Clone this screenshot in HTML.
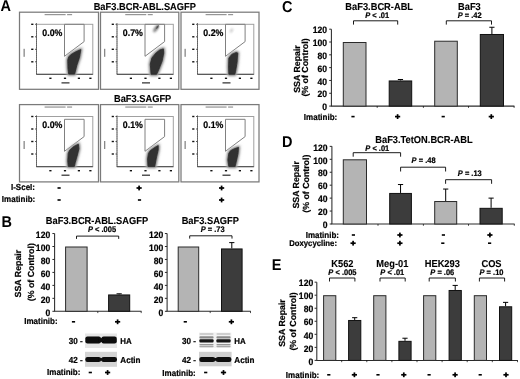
<!DOCTYPE html>
<html><head><meta charset="utf-8"><style>
html,body{margin:0;padding:0;background:#fff;width:520px;height:379px;overflow:hidden}
svg{display:block;filter:blur(0.3px)}
text{font-family:"Liberation Sans", sans-serif;text-rendering:geometricPrecision}
</style></head><body>
<svg width="520" height="379" viewBox="0 0 520 379">
<defs>
<filter id="soft" x="-20%" y="-20%" width="140%" height="140%"><feGaussianBlur stdDeviation="0.5"/></filter>
<filter id="soft2" x="-50%" y="-50%" width="200%" height="200%"><feGaussianBlur stdDeviation="0.9"/></filter>
<filter id="halo" x="-50%" y="-50%" width="200%" height="200%"><feGaussianBlur stdDeviation="1.5"/></filter>
</defs>
<rect width="520" height="379" fill="#fff"/>
<text transform="translate(0.4 10.7) scale(1 1.08)" font-size="14.5" text-anchor="start" font-weight="bold" fill="#000" >A</text>
<text transform="translate(1.6 226.6) scale(1 1.08)" font-size="14.5" text-anchor="start" font-weight="bold" fill="#000" >B</text>
<text transform="translate(282 11.8) scale(1 1.08)" font-size="14.5" text-anchor="start" font-weight="bold" fill="#000" >C</text>
<text transform="translate(282 147.2) scale(1 1.08)" font-size="14.5" text-anchor="start" font-weight="bold" fill="#000" >D</text>
<text transform="translate(271.8 270.3) scale(1 1.08)" font-size="14.5" text-anchor="start" font-weight="bold" fill="#000" >E</text>
<text transform="translate(144.8 9.5) scale(1 1.08)" font-size="9.3" text-anchor="middle" font-weight="bold" fill="#000" stroke="#000" stroke-width="0.1" >BaF3.BCR-ABL.SAGFP</text>
<text transform="translate(142.6 102.1) scale(1 1.08)" font-size="9.3" text-anchor="middle" font-weight="bold" fill="#000" stroke="#000" stroke-width="0.1" >BaF3.SAGFP</text>
<rect x="19.5" y="12.2" width="79.0" height="77.1" fill="none" stroke="#7a7a7a" stroke-width="1.25" />
<rect x="44.6" y="14.1" width="21" height="1.1" fill="#8a8a8a" />
<rect x="67.1" y="14.1" width="5" height="1.1" fill="#8a8a8a" />
<rect x="36.5" y="24.3" width="56.3" height="50.0" fill="none" stroke="#a0a0a0" stroke-width="1.0" />
<line x1="36.5" y1="23.3" x2="36.5" y2="74.3" stroke="#444" stroke-width="1.0" stroke-dasharray="1.2,0.8"/>
<line x1="36.5" y1="74.3" x2="92.8" y2="74.3" stroke="#444" stroke-width="1.0" />
<rect x="31.2" y="23.6" width="2.2" height="1.4" fill="#111" />
<line x1="35.0" y1="24.3" x2="36.5" y2="24.3" stroke="#333" stroke-width="0.8" />
<rect x="31.2" y="36.099999999999994" width="2.2" height="1.4" fill="#111" />
<line x1="35.0" y1="36.8" x2="36.5" y2="36.8" stroke="#333" stroke-width="0.8" />
<rect x="31.2" y="48.599999999999994" width="2.2" height="1.4" fill="#111" />
<line x1="35.0" y1="49.3" x2="36.5" y2="49.3" stroke="#333" stroke-width="0.8" />
<rect x="31.2" y="61.099999999999994" width="2.2" height="1.4" fill="#111" />
<line x1="35.0" y1="61.8" x2="36.5" y2="61.8" stroke="#333" stroke-width="0.8" />
<rect x="49.3" y="77.6" width="2.2" height="1.4" fill="#111" />
<rect x="63.900000000000006" y="77.6" width="2.2" height="1.4" fill="#111" />
<rect x="77.8" y="77.6" width="2.2" height="1.4" fill="#111" />
<rect x="89.3" y="77.6" width="2.2" height="1.4" fill="#111" />
<rect x="61.5" y="82.1" width="8" height="1.5" fill="#555" />
<rect x="23.5" y="48.8" width="1.3" height="8" fill="#888" />
<polygon points="64.50,24.30 84.10,24.30 84.10,41.60 64.50,56.30" fill="none" stroke="#808080" stroke-width="1.0" />
<polygon points="80.80,49.60 79.50,57.20 76.80,65.30 74.60,74.10 68.70,74.10 68.00,68.00 67.80,60.00 68.70,57.00 71.00,54.60 75.50,51.90" fill="#c8c8c8" stroke="#c8c8c8" stroke-width="3.5" filter="url(#halo)"/>
<polygon points="80.80,49.60 79.50,57.20 76.80,65.30 74.60,74.10 68.70,74.10 68.00,68.00 67.80,60.00 68.70,57.00 71.00,54.60 75.50,51.90" fill="#777" stroke="#777" stroke-width="2.2" filter="url(#soft2)" stroke-linejoin="round"/>
<polygon points="80.80,49.60 79.50,57.20 76.80,65.30 74.60,74.10 68.70,74.10 68.00,68.00 67.80,60.00 68.70,57.00 71.00,54.60 75.50,51.90" fill="#303030" stroke="#303030" stroke-width="0.8" filter="url(#soft)" stroke-linejoin="round"/>
<text transform="translate(42.3 35.6) scale(1 1.08)" font-size="8.8" text-anchor="start" font-weight="bold" fill="#000" stroke="#000" stroke-width="0.2" >0.0%</text>
<rect x="100.5" y="12.2" width="78.30000000000001" height="77.1" fill="none" stroke="#7a7a7a" stroke-width="1.25" />
<rect x="125.25" y="14.1" width="21" height="1.1" fill="#8a8a8a" />
<rect x="147.75" y="14.1" width="5" height="1.1" fill="#8a8a8a" />
<rect x="117" y="24.3" width="56.3" height="50.0" fill="none" stroke="#a0a0a0" stroke-width="1.0" />
<line x1="117" y1="23.3" x2="117" y2="74.3" stroke="#444" stroke-width="1.0" stroke-dasharray="1.2,0.8"/>
<line x1="117" y1="74.3" x2="173.3" y2="74.3" stroke="#444" stroke-width="1.0" />
<rect x="111.7" y="23.6" width="2.2" height="1.4" fill="#111" />
<line x1="115.5" y1="24.3" x2="117" y2="24.3" stroke="#333" stroke-width="0.8" />
<rect x="111.7" y="36.099999999999994" width="2.2" height="1.4" fill="#111" />
<line x1="115.5" y1="36.8" x2="117" y2="36.8" stroke="#333" stroke-width="0.8" />
<rect x="111.7" y="48.599999999999994" width="2.2" height="1.4" fill="#111" />
<line x1="115.5" y1="49.3" x2="117" y2="49.3" stroke="#333" stroke-width="0.8" />
<rect x="111.7" y="61.099999999999994" width="2.2" height="1.4" fill="#111" />
<line x1="115.5" y1="61.8" x2="117" y2="61.8" stroke="#333" stroke-width="0.8" />
<rect x="129.8" y="77.6" width="2.2" height="1.4" fill="#111" />
<rect x="144.4" y="77.6" width="2.2" height="1.4" fill="#111" />
<rect x="158.3" y="77.6" width="2.2" height="1.4" fill="#111" />
<rect x="169.8" y="77.6" width="2.2" height="1.4" fill="#111" />
<rect x="142" y="82.1" width="8" height="1.5" fill="#555" />
<rect x="104" y="48.8" width="1.3" height="8" fill="#888" />
<polygon points="145.00,24.30 164.60,24.30 164.60,41.60 145.00,56.30" fill="none" stroke="#808080" stroke-width="1.0" />
<polygon points="163.40,48.90 163.70,53.20 162.10,61.10 159.00,69.00 156.60,74.30 151.10,74.30 150.30,64.10 151.90,58.00 155.80,53.20 159.80,50.00" fill="#c8c8c8" stroke="#c8c8c8" stroke-width="3.5" filter="url(#halo)"/>
<polygon points="163.40,48.90 163.70,53.20 162.10,61.10 159.00,69.00 156.60,74.30 151.10,74.30 150.30,64.10 151.90,58.00 155.80,53.20 159.80,50.00" fill="#777" stroke="#777" stroke-width="2.2" filter="url(#soft2)" stroke-linejoin="round"/>
<polygon points="163.40,48.90 163.70,53.20 162.10,61.10 159.00,69.00 156.60,74.30 151.10,74.30 150.30,64.10 151.90,58.00 155.80,53.20 159.80,50.00" fill="#303030" stroke="#303030" stroke-width="0.8" filter="url(#soft)" stroke-linejoin="round"/>
<text transform="translate(122.8 35.6) scale(1 1.08)" font-size="8.8" text-anchor="start" font-weight="bold" fill="#000" stroke="#000" stroke-width="0.2" >0.7%</text>
<rect x="181" y="12.2" width="78" height="77.1" fill="none" stroke="#7a7a7a" stroke-width="1.25" />
<rect x="205.6" y="14.1" width="21" height="1.1" fill="#8a8a8a" />
<rect x="228.1" y="14.1" width="5" height="1.1" fill="#8a8a8a" />
<rect x="197.5" y="24.3" width="56.3" height="50.0" fill="none" stroke="#a0a0a0" stroke-width="1.0" />
<line x1="197.5" y1="23.3" x2="197.5" y2="74.3" stroke="#444" stroke-width="1.0" stroke-dasharray="1.2,0.8"/>
<line x1="197.5" y1="74.3" x2="253.8" y2="74.3" stroke="#444" stroke-width="1.0" />
<rect x="192.2" y="23.6" width="2.2" height="1.4" fill="#111" />
<line x1="196.0" y1="24.3" x2="197.5" y2="24.3" stroke="#333" stroke-width="0.8" />
<rect x="192.2" y="36.099999999999994" width="2.2" height="1.4" fill="#111" />
<line x1="196.0" y1="36.8" x2="197.5" y2="36.8" stroke="#333" stroke-width="0.8" />
<rect x="192.2" y="48.599999999999994" width="2.2" height="1.4" fill="#111" />
<line x1="196.0" y1="49.3" x2="197.5" y2="49.3" stroke="#333" stroke-width="0.8" />
<rect x="192.2" y="61.099999999999994" width="2.2" height="1.4" fill="#111" />
<line x1="196.0" y1="61.8" x2="197.5" y2="61.8" stroke="#333" stroke-width="0.8" />
<rect x="210.3" y="77.6" width="2.2" height="1.4" fill="#111" />
<rect x="224.9" y="77.6" width="2.2" height="1.4" fill="#111" />
<rect x="238.8" y="77.6" width="2.2" height="1.4" fill="#111" />
<rect x="250.3" y="77.6" width="2.2" height="1.4" fill="#111" />
<rect x="222.5" y="82.1" width="8" height="1.5" fill="#555" />
<rect x="184.5" y="48.8" width="1.3" height="8" fill="#888" />
<polygon points="225.50,24.30 245.10,24.30 245.10,41.60 225.50,56.30" fill="none" stroke="#808080" stroke-width="1.0" />
<polygon points="237.70,53.00 237.00,62.50 235.50,71.40 234.80,74.30 228.90,74.30 228.60,67.00 228.90,58.10 231.80,54.40 236.20,52.50" fill="#c8c8c8" stroke="#c8c8c8" stroke-width="3.5" filter="url(#halo)"/>
<polygon points="237.70,53.00 237.00,62.50 235.50,71.40 234.80,74.30 228.90,74.30 228.60,67.00 228.90,58.10 231.80,54.40 236.20,52.50" fill="#777" stroke="#777" stroke-width="2.2" filter="url(#soft2)" stroke-linejoin="round"/>
<polygon points="237.70,53.00 237.00,62.50 235.50,71.40 234.80,74.30 228.90,74.30 228.60,67.00 228.90,58.10 231.80,54.40 236.20,52.50" fill="#303030" stroke="#303030" stroke-width="0.8" filter="url(#soft)" stroke-linejoin="round"/>
<text transform="translate(203.3 35.6) scale(1 1.08)" font-size="8.8" text-anchor="start" font-weight="bold" fill="#000" stroke="#000" stroke-width="0.2" >0.2%</text>
<rect x="19.5" y="104.6" width="79.0" height="77.30000000000001" fill="none" stroke="#7a7a7a" stroke-width="1.25" />
<rect x="44.6" y="106.5" width="21" height="1.1" fill="#8a8a8a" />
<rect x="67.1" y="106.5" width="5" height="1.1" fill="#8a8a8a" />
<rect x="36.5" y="116.5" width="56.3" height="50.19999999999999" fill="none" stroke="#a0a0a0" stroke-width="1.0" />
<line x1="36.5" y1="115.5" x2="36.5" y2="166.7" stroke="#444" stroke-width="1.0" stroke-dasharray="1.2,0.8"/>
<line x1="36.5" y1="166.7" x2="92.8" y2="166.7" stroke="#444" stroke-width="1.0" />
<rect x="31.2" y="115.8" width="2.2" height="1.4" fill="#111" />
<line x1="35.0" y1="116.5" x2="36.5" y2="116.5" stroke="#333" stroke-width="0.8" />
<rect x="31.2" y="128.3" width="2.2" height="1.4" fill="#111" />
<line x1="35.0" y1="129.0" x2="36.5" y2="129.0" stroke="#333" stroke-width="0.8" />
<rect x="31.2" y="140.8" width="2.2" height="1.4" fill="#111" />
<line x1="35.0" y1="141.5" x2="36.5" y2="141.5" stroke="#333" stroke-width="0.8" />
<rect x="31.2" y="153.3" width="2.2" height="1.4" fill="#111" />
<line x1="35.0" y1="154.0" x2="36.5" y2="154.0" stroke="#333" stroke-width="0.8" />
<rect x="49.3" y="170.0" width="2.2" height="1.4" fill="#111" />
<rect x="63.900000000000006" y="170.0" width="2.2" height="1.4" fill="#111" />
<rect x="77.8" y="170.0" width="2.2" height="1.4" fill="#111" />
<rect x="89.3" y="170.0" width="2.2" height="1.4" fill="#111" />
<rect x="61.5" y="174.5" width="8" height="1.5" fill="#555" />
<rect x="23.5" y="141.0" width="1.3" height="8" fill="#888" />
<polygon points="64.50,119.30 84.10,119.30 84.10,136.60 64.50,151.30" fill="none" stroke="#808080" stroke-width="1.0" />
<polygon points="78.40,144.20 78.90,148.80 77.00,156.20 75.20,162.60 74.30,166.50 68.30,166.50 67.80,160.80 68.30,153.40 69.70,150.20 73.80,146.50" fill="#c8c8c8" stroke="#c8c8c8" stroke-width="3.5" filter="url(#halo)"/>
<polygon points="78.40,144.20 78.90,148.80 77.00,156.20 75.20,162.60 74.30,166.50 68.30,166.50 67.80,160.80 68.30,153.40 69.70,150.20 73.80,146.50" fill="#777" stroke="#777" stroke-width="2.2" filter="url(#soft2)" stroke-linejoin="round"/>
<polygon points="78.40,144.20 78.90,148.80 77.00,156.20 75.20,162.60 74.30,166.50 68.30,166.50 67.80,160.80 68.30,153.40 69.70,150.20 73.80,146.50" fill="#303030" stroke="#303030" stroke-width="0.8" filter="url(#soft)" stroke-linejoin="round"/>
<text transform="translate(42.3 127.8) scale(1 1.08)" font-size="8.8" text-anchor="start" font-weight="bold" fill="#000" stroke="#000" stroke-width="0.2" >0.0%</text>
<rect x="100.5" y="104.6" width="78.30000000000001" height="77.30000000000001" fill="none" stroke="#7a7a7a" stroke-width="1.25" />
<rect x="125.25" y="106.5" width="21" height="1.1" fill="#8a8a8a" />
<rect x="147.75" y="106.5" width="5" height="1.1" fill="#8a8a8a" />
<rect x="117" y="116.5" width="56.3" height="50.19999999999999" fill="none" stroke="#a0a0a0" stroke-width="1.0" />
<line x1="117" y1="115.5" x2="117" y2="166.7" stroke="#444" stroke-width="1.0" stroke-dasharray="1.2,0.8"/>
<line x1="117" y1="166.7" x2="173.3" y2="166.7" stroke="#444" stroke-width="1.0" />
<rect x="111.7" y="115.8" width="2.2" height="1.4" fill="#111" />
<line x1="115.5" y1="116.5" x2="117" y2="116.5" stroke="#333" stroke-width="0.8" />
<rect x="111.7" y="128.3" width="2.2" height="1.4" fill="#111" />
<line x1="115.5" y1="129.0" x2="117" y2="129.0" stroke="#333" stroke-width="0.8" />
<rect x="111.7" y="140.8" width="2.2" height="1.4" fill="#111" />
<line x1="115.5" y1="141.5" x2="117" y2="141.5" stroke="#333" stroke-width="0.8" />
<rect x="111.7" y="153.3" width="2.2" height="1.4" fill="#111" />
<line x1="115.5" y1="154.0" x2="117" y2="154.0" stroke="#333" stroke-width="0.8" />
<rect x="129.8" y="170.0" width="2.2" height="1.4" fill="#111" />
<rect x="144.4" y="170.0" width="2.2" height="1.4" fill="#111" />
<rect x="158.3" y="170.0" width="2.2" height="1.4" fill="#111" />
<rect x="169.8" y="170.0" width="2.2" height="1.4" fill="#111" />
<rect x="142" y="174.5" width="8" height="1.5" fill="#555" />
<rect x="104" y="141.0" width="1.3" height="8" fill="#888" />
<polygon points="145.00,119.30 164.60,119.30 164.60,136.60 145.00,151.30" fill="none" stroke="#808080" stroke-width="1.0" />
<polygon points="158.20,145.60 158.20,149.70 156.30,158.00 154.90,165.40 154.90,166.50 148.00,166.50 147.60,159.00 148.50,153.40 150.30,150.70 154.90,147.40" fill="#c8c8c8" stroke="#c8c8c8" stroke-width="3.5" filter="url(#halo)"/>
<polygon points="158.20,145.60 158.20,149.70 156.30,158.00 154.90,165.40 154.90,166.50 148.00,166.50 147.60,159.00 148.50,153.40 150.30,150.70 154.90,147.40" fill="#777" stroke="#777" stroke-width="2.2" filter="url(#soft2)" stroke-linejoin="round"/>
<polygon points="158.20,145.60 158.20,149.70 156.30,158.00 154.90,165.40 154.90,166.50 148.00,166.50 147.60,159.00 148.50,153.40 150.30,150.70 154.90,147.40" fill="#303030" stroke="#303030" stroke-width="0.8" filter="url(#soft)" stroke-linejoin="round"/>
<text transform="translate(122.8 127.8) scale(1 1.08)" font-size="8.8" text-anchor="start" font-weight="bold" fill="#000" stroke="#000" stroke-width="0.2" >0.1%</text>
<rect x="181" y="104.6" width="78" height="77.30000000000001" fill="none" stroke="#7a7a7a" stroke-width="1.25" />
<rect x="205.6" y="106.5" width="21" height="1.1" fill="#8a8a8a" />
<rect x="228.1" y="106.5" width="5" height="1.1" fill="#8a8a8a" />
<rect x="197.5" y="116.5" width="56.3" height="50.19999999999999" fill="none" stroke="#a0a0a0" stroke-width="1.0" />
<line x1="197.5" y1="115.5" x2="197.5" y2="166.7" stroke="#444" stroke-width="1.0" stroke-dasharray="1.2,0.8"/>
<line x1="197.5" y1="166.7" x2="253.8" y2="166.7" stroke="#444" stroke-width="1.0" />
<rect x="192.2" y="115.8" width="2.2" height="1.4" fill="#111" />
<line x1="196.0" y1="116.5" x2="197.5" y2="116.5" stroke="#333" stroke-width="0.8" />
<rect x="192.2" y="128.3" width="2.2" height="1.4" fill="#111" />
<line x1="196.0" y1="129.0" x2="197.5" y2="129.0" stroke="#333" stroke-width="0.8" />
<rect x="192.2" y="140.8" width="2.2" height="1.4" fill="#111" />
<line x1="196.0" y1="141.5" x2="197.5" y2="141.5" stroke="#333" stroke-width="0.8" />
<rect x="192.2" y="153.3" width="2.2" height="1.4" fill="#111" />
<line x1="196.0" y1="154.0" x2="197.5" y2="154.0" stroke="#333" stroke-width="0.8" />
<rect x="210.3" y="170.0" width="2.2" height="1.4" fill="#111" />
<rect x="224.9" y="170.0" width="2.2" height="1.4" fill="#111" />
<rect x="238.8" y="170.0" width="2.2" height="1.4" fill="#111" />
<rect x="250.3" y="170.0" width="2.2" height="1.4" fill="#111" />
<rect x="222.5" y="174.5" width="8" height="1.5" fill="#555" />
<rect x="184.5" y="141.0" width="1.3" height="8" fill="#888" />
<polygon points="225.50,119.30 245.10,119.30 245.10,136.60 225.50,151.30" fill="none" stroke="#808080" stroke-width="1.0" />
<polygon points="238.50,147.40 238.00,153.40 236.60,159.90 235.20,165.90 235.20,166.50 228.80,166.50 227.90,159.90 228.80,153.40 230.60,150.70 234.30,148.80" fill="#c8c8c8" stroke="#c8c8c8" stroke-width="3.5" filter="url(#halo)"/>
<polygon points="238.50,147.40 238.00,153.40 236.60,159.90 235.20,165.90 235.20,166.50 228.80,166.50 227.90,159.90 228.80,153.40 230.60,150.70 234.30,148.80" fill="#777" stroke="#777" stroke-width="2.2" filter="url(#soft2)" stroke-linejoin="round"/>
<polygon points="238.50,147.40 238.00,153.40 236.60,159.90 235.20,165.90 235.20,166.50 228.80,166.50 227.90,159.90 228.80,153.40 230.60,150.70 234.30,148.80" fill="#303030" stroke="#303030" stroke-width="0.8" filter="url(#soft)" stroke-linejoin="round"/>
<text transform="translate(203.3 127.8) scale(1 1.08)" font-size="8.8" text-anchor="start" font-weight="bold" fill="#000" stroke="#000" stroke-width="0.2" >0.1%</text>
<ellipse cx="156" cy="28.6" rx="1.6" ry="4.2" transform="rotate(35 156 28.6)" fill="#707070" filter="url(#soft2)"/>
<ellipse cx="157.5" cy="27" rx="0.9" ry="2" transform="rotate(35 157.5 27)" fill="#444" filter="url(#soft)"/>
<ellipse cx="231.5" cy="30.5" rx="1.2" ry="2.6" transform="rotate(30 231.5 30.5)" fill="#c4c4c4" filter="url(#soft2)"/>
<text transform="translate(35.0 190.3) scale(1 1.08)" font-size="8.0" text-anchor="end" font-weight="bold" fill="#000" stroke="#000" stroke-width="0.2" >I-SceI:</text>
<text transform="translate(35.2 202.3) scale(1 1.08)" font-size="8.0" text-anchor="end" font-weight="bold" fill="#000" stroke="#000" stroke-width="0.2" >Imatinib:</text>
<text transform="translate(97 224.1) scale(1 1.08)" font-size="9.3" text-anchor="middle" font-weight="bold" fill="#000" stroke="#000" stroke-width="0.1" >BaF3.BCR-ABL.SAGFP</text>
<text transform="translate(102 232.4) scale(1 1.08)" font-size="7.5" text-anchor="middle" font-weight="bold" stroke="#000" stroke-width="0.2"><tspan font-style="italic">P</tspan> &lt; .005</text>
<polyline points="76.50,238.90 76.50,236.10 118.70,236.10 118.70,238.90" fill="none" stroke="#000" stroke-width="0.9" />
<text transform="translate(20.9 273.6) rotate(-90) scale(1 1.0)" font-size="8.8" text-anchor="middle" font-weight="bold" stroke="#000" stroke-width="0.2">SSA Repair</text>
<text transform="translate(33.5 272.2) rotate(-90) scale(1 1.0)" font-size="8.8" text-anchor="middle" font-weight="bold" stroke="#000" stroke-width="0.2">(% of Control)</text>
<line x1="54.6" y1="233.54000000000002" x2="54.6" y2="311.3" stroke="#2a2a2a" stroke-width="1.05" />
<line x1="54.1" y1="311.3" x2="141.5" y2="311.3" stroke="#2a2a2a" stroke-width="1.05" />
<line x1="52.4" y1="311.3" x2="54.6" y2="311.3" stroke="#2a2a2a" stroke-width="1.0" />
<text transform="translate(50.2 315.5) scale(1 1.08)" font-size="8.6" text-anchor="end" font-weight="bold" fill="#000" stroke="#000" stroke-width="0.2" >0</text>
<line x1="52.4" y1="298.34000000000003" x2="54.6" y2="298.34000000000003" stroke="#2a2a2a" stroke-width="1.0" />
<text transform="translate(50.2 302.54) scale(1 1.08)" font-size="8.6" text-anchor="end" font-weight="bold" fill="#000" stroke="#000" stroke-width="0.2" >20</text>
<line x1="52.4" y1="285.38" x2="54.6" y2="285.38" stroke="#2a2a2a" stroke-width="1.0" />
<text transform="translate(50.2 289.58) scale(1 1.08)" font-size="8.6" text-anchor="end" font-weight="bold" fill="#000" stroke="#000" stroke-width="0.2" >40</text>
<line x1="52.4" y1="272.42" x2="54.6" y2="272.42" stroke="#2a2a2a" stroke-width="1.0" />
<text transform="translate(50.2 276.62) scale(1 1.08)" font-size="8.6" text-anchor="end" font-weight="bold" fill="#000" stroke="#000" stroke-width="0.2" >60</text>
<line x1="52.4" y1="259.46000000000004" x2="54.6" y2="259.46000000000004" stroke="#2a2a2a" stroke-width="1.0" />
<text transform="translate(50.2 263.66) scale(1 1.08)" font-size="8.6" text-anchor="end" font-weight="bold" fill="#000" stroke="#000" stroke-width="0.2" >80</text>
<line x1="52.4" y1="246.5" x2="54.6" y2="246.5" stroke="#2a2a2a" stroke-width="1.0" />
<text transform="translate(50.2 250.7) scale(1 1.08)" font-size="8.6" text-anchor="end" font-weight="bold" fill="#000" stroke="#000" stroke-width="0.2" >100</text>
<line x1="52.4" y1="233.54000000000002" x2="54.6" y2="233.54000000000002" stroke="#2a2a2a" stroke-width="1.0" />
<text transform="translate(50.2 237.74) scale(1 1.08)" font-size="8.6" text-anchor="end" font-weight="bold" fill="#000" stroke="#000" stroke-width="0.2" >120</text>
<line x1="97.8" y1="311.3" x2="97.8" y2="313.1" stroke="#000" stroke-width="0.7" />
<line x1="141.2" y1="311.3" x2="141.2" y2="313.1" stroke="#000" stroke-width="0.7" />
<rect x="65.6" y="247.0" width="21.5" height="64.30000000000001" fill="#b4b4b4" stroke="#2a2a2a" stroke-width="1.0" />
<line x1="119.14999999999999" y1="293.80400000000003" x2="119.14999999999999" y2="294.452" stroke="#000" stroke-width="1.0" />
<line x1="116.55" y1="293.80400000000003" x2="121.74999999999999" y2="293.80400000000003" stroke="#000" stroke-width="1.0" />
<rect x="108.6" y="294.952" width="21.099999999999994" height="16.348000000000013" fill="#3c3c3c" stroke="#111" stroke-width="1.0" />
<text transform="translate(57.6 324.3) scale(1 1.08)" font-size="8.0" text-anchor="end" font-weight="bold" fill="#000" stroke="#000" stroke-width="0.2" >Imatinib:</text>
<text transform="translate(210.3 224.0) scale(1 1.08)" font-size="9.3" text-anchor="middle" font-weight="bold" fill="#000" stroke="#000" stroke-width="0.1" >BaF3.SAGFP</text>
<text transform="translate(212.7 232.3) scale(1 1.08)" font-size="7.5" text-anchor="middle" font-weight="bold" stroke="#000" stroke-width="0.2"><tspan font-style="italic">P</tspan> = .73</text>
<polyline points="189.70,238.60 189.70,235.80 232.00,235.80 232.00,238.60" fill="none" stroke="#000" stroke-width="0.9" />
<line x1="167.1" y1="233.54000000000002" x2="167.1" y2="311.3" stroke="#2a2a2a" stroke-width="1.05" />
<line x1="166.6" y1="311.3" x2="250.8" y2="311.3" stroke="#2a2a2a" stroke-width="1.05" />
<line x1="164.9" y1="311.3" x2="167.1" y2="311.3" stroke="#2a2a2a" stroke-width="1.0" />
<text transform="translate(163.4 315.5) scale(1 1.08)" font-size="8.6" text-anchor="end" font-weight="bold" fill="#000" stroke="#000" stroke-width="0.2" >0</text>
<line x1="164.9" y1="298.34000000000003" x2="167.1" y2="298.34000000000003" stroke="#2a2a2a" stroke-width="1.0" />
<text transform="translate(163.4 302.54) scale(1 1.08)" font-size="8.6" text-anchor="end" font-weight="bold" fill="#000" stroke="#000" stroke-width="0.2" >20</text>
<line x1="164.9" y1="285.38" x2="167.1" y2="285.38" stroke="#2a2a2a" stroke-width="1.0" />
<text transform="translate(163.4 289.58) scale(1 1.08)" font-size="8.6" text-anchor="end" font-weight="bold" fill="#000" stroke="#000" stroke-width="0.2" >40</text>
<line x1="164.9" y1="272.42" x2="167.1" y2="272.42" stroke="#2a2a2a" stroke-width="1.0" />
<text transform="translate(163.4 276.62) scale(1 1.08)" font-size="8.6" text-anchor="end" font-weight="bold" fill="#000" stroke="#000" stroke-width="0.2" >60</text>
<line x1="164.9" y1="259.46000000000004" x2="167.1" y2="259.46000000000004" stroke="#2a2a2a" stroke-width="1.0" />
<text transform="translate(163.4 263.66) scale(1 1.08)" font-size="8.6" text-anchor="end" font-weight="bold" fill="#000" stroke="#000" stroke-width="0.2" >80</text>
<line x1="164.9" y1="246.5" x2="167.1" y2="246.5" stroke="#2a2a2a" stroke-width="1.0" />
<text transform="translate(163.4 250.7) scale(1 1.08)" font-size="8.6" text-anchor="end" font-weight="bold" fill="#000" stroke="#000" stroke-width="0.2" >100</text>
<line x1="164.9" y1="233.54000000000002" x2="167.1" y2="233.54000000000002" stroke="#2a2a2a" stroke-width="1.0" />
<text transform="translate(163.4 237.74) scale(1 1.08)" font-size="8.6" text-anchor="end" font-weight="bold" fill="#000" stroke="#000" stroke-width="0.2" >120</text>
<line x1="210.2" y1="311.3" x2="210.2" y2="313.1" stroke="#000" stroke-width="0.7" />
<line x1="250.5" y1="311.3" x2="250.5" y2="313.1" stroke="#000" stroke-width="0.7" />
<rect x="178.2" y="247.0" width="20.5" height="64.30000000000001" fill="#b4b4b4" stroke="#2a2a2a" stroke-width="1.0" />
<line x1="231.8" y1="242.61200000000002" x2="231.8" y2="248.44400000000002" stroke="#000" stroke-width="1.0" />
<line x1="229.20000000000002" y1="242.61200000000002" x2="234.4" y2="242.61200000000002" stroke="#000" stroke-width="1.0" />
<rect x="221.5" y="248.94400000000002" width="20.599999999999994" height="62.355999999999995" fill="#3c3c3c" stroke="#111" stroke-width="1.0" />
<rect x="85" y="333.5" width="32" height="14.5" fill="#e6e6e6" />
<rect x="85.3" y="336.6" width="15.700000000000003" height="6.899999999999977" fill="#0a0a0a" rx="2.2" filter="url(#soft)"/>
<rect x="101.4" y="336.6" width="15.399999999999991" height="6.899999999999977" fill="#0a0a0a" rx="2.2" filter="url(#soft)"/>
<rect x="98.7" y="338.118" width="5.0" height="3.8640000000000327" fill="#0a0a0a" rx="0" filter="url(#soft)"/>
<rect x="85" y="351.8" width="32" height="15" fill="#d4d4d4" />
<rect x="85.3" y="357" width="15.700000000000003" height="4.899999999999977" fill="#0a0a0a" rx="2.2" filter="url(#soft)"/>
<rect x="101.4" y="357" width="15.599999999999994" height="4.899999999999977" fill="#0a0a0a" rx="2.2" filter="url(#soft)"/>
<rect x="98.7" y="358.078" width="5.0" height="2.744000000000028" fill="#0a0a0a" rx="0" filter="url(#soft)"/>
<rect x="199" y="332.5" width="32.4" height="15.5" fill="#f2f2f2" />
<rect x="199.4" y="333.2" width="14.199999999999989" height="1.6000000000000227" fill="#c4c4c4" rx="1" filter="url(#soft)"/>
<rect x="216.4" y="333.2" width="14.199999999999989" height="1.6000000000000227" fill="#c4c4c4" rx="1" filter="url(#soft)"/>
<rect x="199.4" y="336.2" width="14.199999999999989" height="2.400000000000034" fill="#8a8a8a" rx="1" filter="url(#soft)"/>
<rect x="216.4" y="336.2" width="14.199999999999989" height="2.400000000000034" fill="#8a8a8a" rx="1" filter="url(#soft)"/>
<rect x="199.4" y="339.3" width="14.199999999999989" height="3.099999999999966" fill="#121212" rx="1" filter="url(#soft)"/>
<rect x="216.4" y="339.3" width="14.199999999999989" height="3.099999999999966" fill="#121212" rx="1" filter="url(#soft)"/>
<rect x="199.4" y="344.0" width="14.199999999999989" height="1.3000000000000114" fill="#959595" rx="1" filter="url(#soft)"/>
<rect x="216.4" y="344.0" width="14.199999999999989" height="1.3000000000000114" fill="#959595" rx="1" filter="url(#soft)"/>
<rect x="199.4" y="345.8" width="14.199999999999989" height="1.3999999999999773" fill="#a8a8a8" rx="1" filter="url(#soft)"/>
<rect x="216.4" y="345.8" width="14.199999999999989" height="1.3999999999999773" fill="#a8a8a8" rx="1" filter="url(#soft)"/>
<rect x="199" y="351.8" width="32.6" height="14.5" fill="#cfcfcf" />
<rect x="199.3" y="356.9" width="15.899999999999977" height="5.0" fill="#0a0a0a" rx="2.2" filter="url(#soft)"/>
<rect x="215.8" y="356.9" width="15.599999999999994" height="5.0" fill="#0a0a0a" rx="2.2" filter="url(#soft)"/>
<rect x="213.0" y="358.0" width="5.0" height="2.7999999999999545" fill="#0a0a0a" rx="0" filter="url(#soft)"/>
<text transform="translate(82.6 343.7) scale(1 1.08)" font-size="8.1" text-anchor="end" font-weight="bold" fill="#000" stroke="#000" stroke-width="0.2" >30 -</text>
<text transform="translate(82.6 362.6) scale(1 1.08)" font-size="8.1" text-anchor="end" font-weight="bold" fill="#000" stroke="#000" stroke-width="0.2" >42 -</text>
<text transform="translate(120.3 343.7) scale(1 1.08)" font-size="7.9" text-anchor="start" font-weight="bold" fill="#000" stroke="#000" stroke-width="0.2" >HA</text>
<text transform="translate(120.3 362.7) scale(1 1.08)" font-size="8.1" text-anchor="start" font-weight="bold" fill="#000" stroke="#000" stroke-width="0.2" >Actin</text>
<text transform="translate(196 343.7) scale(1 1.08)" font-size="8.1" text-anchor="end" font-weight="bold" fill="#000" stroke="#000" stroke-width="0.2" >30 -</text>
<text transform="translate(196 362.6) scale(1 1.08)" font-size="8.1" text-anchor="end" font-weight="bold" fill="#000" stroke="#000" stroke-width="0.2" >42 -</text>
<text transform="translate(234.3 343.7) scale(1 1.08)" font-size="7.9" text-anchor="start" font-weight="bold" fill="#000" stroke="#000" stroke-width="0.2" >HA</text>
<text transform="translate(234.3 362.7) scale(1 1.08)" font-size="8.1" text-anchor="start" font-weight="bold" fill="#000" stroke="#000" stroke-width="0.2" >Actin</text>
<text transform="translate(80.4 375.3) scale(1 1.08)" font-size="8.0" text-anchor="end" font-weight="bold" fill="#000" stroke="#000" stroke-width="0.2" >Imatinib:</text>
<text transform="translate(195.7 375.8) scale(1 1.08)" font-size="8.0" text-anchor="end" font-weight="bold" fill="#000" stroke="#000" stroke-width="0.2" >Imatinib:</text>
<text transform="translate(379.2 9.7) scale(1 1.08)" font-size="9.3" text-anchor="middle" font-weight="bold" fill="#000" stroke="#000" stroke-width="0.1" >BaF3.BCR-ABL</text>
<text transform="translate(377.2 17.9) scale(1 1.08)" font-size="7.5" text-anchor="middle" font-weight="bold" stroke="#000" stroke-width="0.2"><tspan font-style="italic">P</tspan> &lt; .01</text>
<polyline points="353.50,24.60 353.50,20.80 397.70,20.80 397.70,24.60" fill="none" stroke="#000" stroke-width="0.9" />
<text transform="translate(469.4 9.7) scale(1 1.08)" font-size="9.3" text-anchor="middle" font-weight="bold" fill="#000" stroke="#000" stroke-width="0.1" >BaF3</text>
<text transform="translate(469.7 17.6) scale(1 1.08)" font-size="7.5" text-anchor="middle" font-weight="bold" stroke="#000" stroke-width="0.2"><tspan font-style="italic">P</tspan> = .42</text>
<polyline points="446.30,24.60 446.30,20.80 491.50,20.80 491.50,24.60" fill="none" stroke="#000" stroke-width="0.9" />
<text transform="translate(299.6 69) rotate(-90) scale(1 1.0)" font-size="8.8" text-anchor="middle" font-weight="bold" stroke="#000" stroke-width="0.2">SSA Repair</text>
<text transform="translate(307.5 67.5) rotate(-90) scale(1 1.0)" font-size="8.8" text-anchor="middle" font-weight="bold" stroke="#000" stroke-width="0.2">(% of Control)</text>
<line x1="331.4" y1="29.179999999999993" x2="331.4" y2="106.1" stroke="#2a2a2a" stroke-width="1.05" />
<line x1="330.9" y1="106.1" x2="514.4" y2="106.1" stroke="#2a2a2a" stroke-width="1.05" />
<line x1="329.2" y1="106.1" x2="331.4" y2="106.1" stroke="#2a2a2a" stroke-width="1.0" />
<text transform="translate(327.0 110.3) scale(1 1.08)" font-size="8.6" text-anchor="end" font-weight="bold" fill="#000" stroke="#000" stroke-width="0.2" >0</text>
<line x1="329.2" y1="93.28" x2="331.4" y2="93.28" stroke="#2a2a2a" stroke-width="1.0" />
<text transform="translate(327.0 97.48) scale(1 1.08)" font-size="8.6" text-anchor="end" font-weight="bold" fill="#000" stroke="#000" stroke-width="0.2" >20</text>
<line x1="329.2" y1="80.46" x2="331.4" y2="80.46" stroke="#2a2a2a" stroke-width="1.0" />
<text transform="translate(327.0 84.66) scale(1 1.08)" font-size="8.6" text-anchor="end" font-weight="bold" fill="#000" stroke="#000" stroke-width="0.2" >40</text>
<line x1="329.2" y1="67.63999999999999" x2="331.4" y2="67.63999999999999" stroke="#2a2a2a" stroke-width="1.0" />
<text transform="translate(327.0 71.83999999999999) scale(1 1.08)" font-size="8.6" text-anchor="end" font-weight="bold" fill="#000" stroke="#000" stroke-width="0.2" >60</text>
<line x1="329.2" y1="54.81999999999999" x2="331.4" y2="54.81999999999999" stroke="#2a2a2a" stroke-width="1.0" />
<text transform="translate(327.0 59.019999999999996) scale(1 1.08)" font-size="8.6" text-anchor="end" font-weight="bold" fill="#000" stroke="#000" stroke-width="0.2" >80</text>
<line x1="329.2" y1="42.0" x2="331.4" y2="42.0" stroke="#2a2a2a" stroke-width="1.0" />
<text transform="translate(327.0 46.2) scale(1 1.08)" font-size="8.6" text-anchor="end" font-weight="bold" fill="#000" stroke="#000" stroke-width="0.2" >100</text>
<line x1="329.2" y1="29.179999999999993" x2="331.4" y2="29.179999999999993" stroke="#2a2a2a" stroke-width="1.0" />
<text transform="translate(327.0 33.379999999999995) scale(1 1.08)" font-size="8.6" text-anchor="end" font-weight="bold" fill="#000" stroke="#000" stroke-width="0.2" >120</text>
<line x1="377.2" y1="106.1" x2="377.2" y2="107.89999999999999" stroke="#000" stroke-width="0.7" />
<line x1="423.4" y1="106.1" x2="423.4" y2="107.89999999999999" stroke="#000" stroke-width="0.7" />
<line x1="468.5" y1="106.1" x2="468.5" y2="107.89999999999999" stroke="#000" stroke-width="0.7" />
<line x1="514.1" y1="106.1" x2="514.1" y2="107.89999999999999" stroke="#000" stroke-width="0.7" />
<rect x="343.3" y="42.5" width="22.69999999999999" height="63.599999999999994" fill="#b4b4b4" stroke="#2a2a2a" stroke-width="1.0" />
<line x1="400.45" y1="79.49849999999999" x2="400.45" y2="80.46" stroke="#000" stroke-width="1.0" />
<line x1="397.84999999999997" y1="79.49849999999999" x2="403.05" y2="79.49849999999999" stroke="#000" stroke-width="1.0" />
<rect x="389.2" y="80.96" width="22.5" height="25.14" fill="#3c3c3c" stroke="#111" stroke-width="1.0" />
<rect x="434.7" y="41.21799999999999" width="22.600000000000023" height="64.882" fill="#b4b4b4" stroke="#2a2a2a" stroke-width="1.0" />
<line x1="491.9" y1="27.25699999999999" x2="491.9" y2="33.9875" stroke="#000" stroke-width="1.0" />
<line x1="489.29999999999995" y1="27.25699999999999" x2="494.5" y2="27.25699999999999" stroke="#000" stroke-width="1.0" />
<rect x="480.3" y="34.4875" width="23.19999999999999" height="71.6125" fill="#3c3c3c" stroke="#111" stroke-width="1.0" />
<text transform="translate(337.2 119.8) scale(1 1.08)" font-size="8.0" text-anchor="end" font-weight="bold" fill="#000" stroke="#000" stroke-width="0.2" >Imatinib:</text>
<text transform="translate(424 142.7) scale(1 1.08)" font-size="9.3" text-anchor="middle" font-weight="bold" fill="#000" stroke="#000" stroke-width="0.1" >BaF3.TetON.BCR-ABL</text>
<text transform="translate(377.3 151) scale(1 1.08)" font-size="7.5" text-anchor="middle" font-weight="bold" stroke="#000" stroke-width="0.2"><tspan font-style="italic">P</tspan> &lt; .01</text>
<polyline points="353.20,156.70 353.20,152.70 400.60,152.70 400.60,156.70" fill="none" stroke="#000" stroke-width="0.9" />
<text transform="translate(423.6 163.2) scale(1 1.08)" font-size="7.5" text-anchor="middle" font-weight="bold" stroke="#000" stroke-width="0.2"><tspan font-style="italic">P</tspan> = .48</text>
<polyline points="400.60,171.50 400.60,167.20 445.60,167.20 445.60,171.50" fill="none" stroke="#000" stroke-width="0.9" />
<text transform="translate(469.8 176.3) scale(1 1.08)" font-size="7.5" text-anchor="middle" font-weight="bold" stroke="#000" stroke-width="0.2"><tspan font-style="italic">P</tspan> = .13</text>
<polyline points="445.60,183.80 445.60,179.70 491.60,179.70 491.60,183.80" fill="none" stroke="#000" stroke-width="0.9" />
<text transform="translate(299.4 184.8) rotate(-90) scale(1 1.0)" font-size="8.8" text-anchor="middle" font-weight="bold" stroke="#000" stroke-width="0.2">SSA Repair</text>
<text transform="translate(309.2 183.7) rotate(-90) scale(1 1.0)" font-size="8.8" text-anchor="middle" font-weight="bold" stroke="#000" stroke-width="0.2">(% of Control)</text>
<line x1="331.9" y1="146.36" x2="331.9" y2="224.0" stroke="#2a2a2a" stroke-width="1.05" />
<line x1="331.4" y1="224.0" x2="514.6" y2="224.0" stroke="#2a2a2a" stroke-width="1.05" />
<line x1="329.7" y1="224.0" x2="331.9" y2="224.0" stroke="#2a2a2a" stroke-width="1.0" />
<text transform="translate(327.5 228.2) scale(1 1.08)" font-size="8.6" text-anchor="end" font-weight="bold" fill="#000" stroke="#000" stroke-width="0.2" >0</text>
<line x1="329.7" y1="211.06" x2="331.9" y2="211.06" stroke="#2a2a2a" stroke-width="1.0" />
<text transform="translate(327.5 215.26) scale(1 1.08)" font-size="8.6" text-anchor="end" font-weight="bold" fill="#000" stroke="#000" stroke-width="0.2" >20</text>
<line x1="329.7" y1="198.12" x2="331.9" y2="198.12" stroke="#2a2a2a" stroke-width="1.0" />
<text transform="translate(327.5 202.32) scale(1 1.08)" font-size="8.6" text-anchor="end" font-weight="bold" fill="#000" stroke="#000" stroke-width="0.2" >40</text>
<line x1="329.7" y1="185.18" x2="331.9" y2="185.18" stroke="#2a2a2a" stroke-width="1.0" />
<text transform="translate(327.5 189.38) scale(1 1.08)" font-size="8.6" text-anchor="end" font-weight="bold" fill="#000" stroke="#000" stroke-width="0.2" >60</text>
<line x1="329.7" y1="172.24" x2="331.9" y2="172.24" stroke="#2a2a2a" stroke-width="1.0" />
<text transform="translate(327.5 176.44) scale(1 1.08)" font-size="8.6" text-anchor="end" font-weight="bold" fill="#000" stroke="#000" stroke-width="0.2" >80</text>
<line x1="329.7" y1="159.3" x2="331.9" y2="159.3" stroke="#2a2a2a" stroke-width="1.0" />
<text transform="translate(327.5 163.5) scale(1 1.08)" font-size="8.6" text-anchor="end" font-weight="bold" fill="#000" stroke="#000" stroke-width="0.2" >100</text>
<line x1="329.7" y1="146.36" x2="331.9" y2="146.36" stroke="#2a2a2a" stroke-width="1.0" />
<text transform="translate(327.5 150.56) scale(1 1.08)" font-size="8.6" text-anchor="end" font-weight="bold" fill="#000" stroke="#000" stroke-width="0.2" >120</text>
<line x1="378" y1="224.0" x2="378" y2="225.8" stroke="#000" stroke-width="0.7" />
<line x1="423.4" y1="224.0" x2="423.4" y2="225.8" stroke="#000" stroke-width="0.7" />
<line x1="468.5" y1="224.0" x2="468.5" y2="225.8" stroke="#000" stroke-width="0.7" />
<line x1="514.3" y1="224.0" x2="514.3" y2="225.8" stroke="#000" stroke-width="0.7" />
<rect x="343.3" y="159.8" width="23.19999999999999" height="64.19999999999999" fill="#b4b4b4" stroke="#2a2a2a" stroke-width="1.0" />
<line x1="400.54999999999995" y1="184.53300000000002" x2="400.54999999999995" y2="192.944" stroke="#000" stroke-width="1.0" />
<line x1="397.94999999999993" y1="184.53300000000002" x2="403.15" y2="184.53300000000002" stroke="#000" stroke-width="1.0" />
<rect x="389.7" y="193.444" width="21.69999999999999" height="30.55600000000001" fill="#3c3c3c" stroke="#111" stroke-width="1.0" />
<line x1="445.7" y1="189.062" x2="445.7" y2="201.0315" stroke="#000" stroke-width="1.0" />
<line x1="443.09999999999997" y1="189.062" x2="448.3" y2="189.062" stroke="#000" stroke-width="1.0" />
<rect x="434.7" y="201.5315" width="22.0" height="22.468500000000006" fill="#b4b4b4" stroke="#2a2a2a" stroke-width="1.0" />
<line x1="491.1" y1="198.12" x2="491.1" y2="207.825" stroke="#000" stroke-width="1.0" />
<line x1="488.5" y1="198.12" x2="493.70000000000005" y2="198.12" stroke="#000" stroke-width="1.0" />
<rect x="480.0" y="208.325" width="22.19999999999999" height="15.675000000000011" fill="#3c3c3c" stroke="#111" stroke-width="1.0" />
<text transform="translate(339 237.9) scale(1 1.08)" font-size="8.0" text-anchor="end" font-weight="bold" fill="#000" stroke="#000" stroke-width="0.2" >Imatinib:</text>
<text transform="translate(337 245.6) scale(1 1.08)" font-size="7.75" text-anchor="end" font-weight="bold" fill="#000" stroke="#000" stroke-width="0.2" >Doxycycline:</text>
<text transform="translate(342.4 266.6) scale(1 1.08)" font-size="9.3" text-anchor="middle" font-weight="bold" fill="#000" stroke="#000" stroke-width="0.1" >K562</text>
<text transform="translate(342.4 275.2) scale(1 1.08)" font-size="7.5" text-anchor="middle" font-weight="bold" stroke="#000" stroke-width="0.2"><tspan font-style="italic">P</tspan> &lt; .005</text>
<text transform="translate(392.3 266.6) scale(1 1.08)" font-size="9.3" text-anchor="middle" font-weight="bold" fill="#000" stroke="#000" stroke-width="0.1" >Meg-01</text>
<text transform="translate(392.3 275.2) scale(1 1.08)" font-size="7.5" text-anchor="middle" font-weight="bold" stroke="#000" stroke-width="0.2"><tspan font-style="italic">P</tspan> &lt; .01</text>
<text transform="translate(442.3 266.6) scale(1 1.08)" font-size="9.3" text-anchor="middle" font-weight="bold" fill="#000" stroke="#000" stroke-width="0.1" >HEK293</text>
<text transform="translate(442.3 275.2) scale(1 1.08)" font-size="7.5" text-anchor="middle" font-weight="bold" stroke="#000" stroke-width="0.2"><tspan font-style="italic">P</tspan> = .06</text>
<text transform="translate(491.5 266.6) scale(1 1.08)" font-size="9.3" text-anchor="middle" font-weight="bold" fill="#000" stroke="#000" stroke-width="0.1" >COS</text>
<text transform="translate(491.5 275.2) scale(1 1.08)" font-size="7.5" text-anchor="middle" font-weight="bold" stroke="#000" stroke-width="0.2"><tspan font-style="italic">P</tspan> = .10</text>
<polyline points="329.50,281.50 329.50,278.00 354.90,278.00 354.90,281.50" fill="none" stroke="#000" stroke-width="0.9" />
<polyline points="380.00,281.50 380.00,278.00 405.20,278.00 405.20,281.50" fill="none" stroke="#000" stroke-width="0.9" />
<polyline points="429.20,281.50 429.20,278.00 455.40,278.00 455.40,281.50" fill="none" stroke="#000" stroke-width="0.9" />
<polyline points="479.40,281.50 479.40,278.00 504.60,278.00 504.60,281.50" fill="none" stroke="#000" stroke-width="0.9" />
<text transform="translate(284.8 323) rotate(-90) scale(1 1.0)" font-size="8.8" text-anchor="middle" font-weight="bold" stroke="#000" stroke-width="0.2">SSA Repair</text>
<text transform="translate(295.5 321.5) rotate(-90) scale(1 1.0)" font-size="8.8" text-anchor="middle" font-weight="bold" stroke="#000" stroke-width="0.2">(% of Control)</text>
<line x1="316.8" y1="282.15999999999997" x2="316.8" y2="360.4" stroke="#2a2a2a" stroke-width="1.05" />
<line x1="316.3" y1="360.4" x2="517.8" y2="360.4" stroke="#2a2a2a" stroke-width="1.05" />
<line x1="314.6" y1="360.4" x2="316.8" y2="360.4" stroke="#2a2a2a" stroke-width="1.0" />
<text transform="translate(313.2 364.59999999999997) scale(1 1.08)" font-size="8.6" text-anchor="end" font-weight="bold" fill="#000" stroke="#000" stroke-width="0.2" >0</text>
<line x1="314.6" y1="347.35999999999996" x2="316.8" y2="347.35999999999996" stroke="#2a2a2a" stroke-width="1.0" />
<text transform="translate(313.2 351.55999999999995) scale(1 1.08)" font-size="8.6" text-anchor="end" font-weight="bold" fill="#000" stroke="#000" stroke-width="0.2" >20</text>
<line x1="314.6" y1="334.32" x2="316.8" y2="334.32" stroke="#2a2a2a" stroke-width="1.0" />
<text transform="translate(313.2 338.52) scale(1 1.08)" font-size="8.6" text-anchor="end" font-weight="bold" fill="#000" stroke="#000" stroke-width="0.2" >40</text>
<line x1="314.6" y1="321.28" x2="316.8" y2="321.28" stroke="#2a2a2a" stroke-width="1.0" />
<text transform="translate(313.2 325.47999999999996) scale(1 1.08)" font-size="8.6" text-anchor="end" font-weight="bold" fill="#000" stroke="#000" stroke-width="0.2" >60</text>
<line x1="314.6" y1="308.23999999999995" x2="316.8" y2="308.23999999999995" stroke="#2a2a2a" stroke-width="1.0" />
<text transform="translate(313.2 312.43999999999994) scale(1 1.08)" font-size="8.6" text-anchor="end" font-weight="bold" fill="#000" stroke="#000" stroke-width="0.2" >80</text>
<line x1="314.6" y1="295.2" x2="316.8" y2="295.2" stroke="#2a2a2a" stroke-width="1.0" />
<text transform="translate(313.2 299.4) scale(1 1.08)" font-size="8.6" text-anchor="end" font-weight="bold" fill="#000" stroke="#000" stroke-width="0.2" >100</text>
<line x1="314.6" y1="282.15999999999997" x2="316.8" y2="282.15999999999997" stroke="#2a2a2a" stroke-width="1.0" />
<text transform="translate(313.2 286.35999999999996) scale(1 1.08)" font-size="8.6" text-anchor="end" font-weight="bold" fill="#000" stroke="#000" stroke-width="0.2" >120</text>
<line x1="341.7" y1="360.4" x2="341.7" y2="362.2" stroke="#000" stroke-width="0.7" />
<line x1="366.8" y1="360.4" x2="366.8" y2="362.2" stroke="#000" stroke-width="0.7" />
<line x1="391.9" y1="360.4" x2="391.9" y2="362.2" stroke="#000" stroke-width="0.7" />
<line x1="417" y1="360.4" x2="417" y2="362.2" stroke="#000" stroke-width="0.7" />
<line x1="442.1" y1="360.4" x2="442.1" y2="362.2" stroke="#000" stroke-width="0.7" />
<line x1="467.2" y1="360.4" x2="467.2" y2="362.2" stroke="#000" stroke-width="0.7" />
<line x1="492.3" y1="360.4" x2="492.3" y2="362.2" stroke="#000" stroke-width="0.7" />
<line x1="517.5" y1="360.4" x2="517.5" y2="362.2" stroke="#000" stroke-width="0.7" />
<rect x="323.6" y="295.7" width="12.199999999999989" height="64.69999999999999" fill="#b4b4b4" stroke="#2a2a2a" stroke-width="1.0" />
<line x1="354.70000000000005" y1="317.69399999999996" x2="354.70000000000005" y2="319.976" stroke="#000" stroke-width="1.0" />
<line x1="352.1" y1="317.69399999999996" x2="357.30000000000007" y2="317.69399999999996" stroke="#000" stroke-width="1.0" />
<rect x="348.6" y="320.476" width="12.199999999999989" height="39.92399999999998" fill="#3c3c3c" stroke="#111" stroke-width="1.0" />
<rect x="373.7" y="295.7" width="12.199999999999989" height="64.69999999999999" fill="#b4b4b4" stroke="#2a2a2a" stroke-width="1.0" />
<line x1="405.0" y1="338.23199999999997" x2="405.0" y2="340.84" stroke="#000" stroke-width="1.0" />
<line x1="402.4" y1="338.23199999999997" x2="407.6" y2="338.23199999999997" stroke="#000" stroke-width="1.0" />
<rect x="398.9" y="341.34" width="12.199999999999989" height="19.060000000000002" fill="#3c3c3c" stroke="#111" stroke-width="1.0" />
<rect x="423.6" y="295.7" width="12.199999999999989" height="64.69999999999999" fill="#b4b4b4" stroke="#2a2a2a" stroke-width="1.0" />
<line x1="455.20000000000005" y1="285.41999999999996" x2="455.20000000000005" y2="289.984" stroke="#000" stroke-width="1.0" />
<line x1="452.6" y1="285.41999999999996" x2="457.80000000000007" y2="285.41999999999996" stroke="#000" stroke-width="1.0" />
<rect x="449.1" y="290.484" width="12.199999999999989" height="69.916" fill="#3c3c3c" stroke="#111" stroke-width="1.0" />
<rect x="474.3" y="295.7" width="12.199999999999989" height="64.69999999999999" fill="#b4b4b4" stroke="#2a2a2a" stroke-width="1.0" />
<line x1="505.6" y1="302.37199999999996" x2="505.6" y2="306.284" stroke="#000" stroke-width="1.0" />
<line x1="503.0" y1="302.37199999999996" x2="508.20000000000005" y2="302.37199999999996" stroke="#000" stroke-width="1.0" />
<rect x="499.5" y="306.784" width="12.200000000000045" height="53.615999999999985" fill="#3c3c3c" stroke="#111" stroke-width="1.0" />
<text transform="translate(319.2 378.2) scale(1 1.08)" font-size="8.0" text-anchor="end" font-weight="bold" fill="#000" stroke="#000" stroke-width="0.2" >Imatinib:</text>
<rect x="57.5" y="187.2" width="3.2" height="1.6" fill="#000" />
<rect x="136.5" y="187.15" width="5.2" height="1.7" fill="#000" />
<rect x="138.25" y="185.6" width="1.7" height="4.8" fill="#000" />
<rect x="219.0" y="187.15" width="5.2" height="1.7" fill="#000" />
<rect x="220.75" y="185.6" width="1.7" height="4.8" fill="#000" />
<rect x="57.5" y="199.2" width="3.2" height="1.6" fill="#000" />
<rect x="137.9" y="199.2" width="3.2" height="1.6" fill="#000" />
<rect x="219.0" y="199.15" width="5.2" height="1.7" fill="#000" />
<rect x="220.75" y="197.6" width="1.7" height="4.8" fill="#000" />
<rect x="71.9" y="321.0" width="3.2" height="1.6" fill="#000" />
<rect x="115.0" y="320.95" width="5.2" height="1.7" fill="#000" />
<rect x="116.75" y="319.40000000000003" width="1.7" height="4.8" fill="#000" />
<rect x="183.70000000000002" y="321.0" width="3.2" height="1.6" fill="#000" />
<rect x="228.8" y="320.95" width="5.2" height="1.7" fill="#000" />
<rect x="230.55" y="319.40000000000003" width="1.7" height="4.8" fill="#000" />
<rect x="88.7" y="371.7" width="3.2" height="1.6" fill="#000" />
<rect x="105.0" y="371.65" width="5.2" height="1.7" fill="#000" />
<rect x="106.75" y="370.1" width="1.7" height="4.8" fill="#000" />
<rect x="204.1" y="371.7" width="3.2" height="1.6" fill="#000" />
<rect x="220.9" y="371.65" width="5.2" height="1.7" fill="#000" />
<rect x="222.65" y="370.1" width="1.7" height="4.8" fill="#000" />
<rect x="351.4" y="115.8" width="3.2" height="1.6" fill="#000" />
<rect x="395.0" y="115.75" width="5.2" height="1.7" fill="#000" />
<rect x="396.75" y="114.19999999999999" width="1.7" height="4.8" fill="#000" />
<rect x="441.59999999999997" y="115.8" width="3.2" height="1.6" fill="#000" />
<rect x="488.7" y="115.75" width="5.2" height="1.7" fill="#000" />
<rect x="490.45" y="114.19999999999999" width="1.7" height="4.8" fill="#000" />
<rect x="351.79999999999995" y="234.2" width="3.2" height="1.6" fill="#000" />
<rect x="397.29999999999995" y="234.15" width="5.2" height="1.7" fill="#000" />
<rect x="399.04999999999995" y="232.6" width="1.7" height="4.8" fill="#000" />
<rect x="441.79999999999995" y="234.2" width="3.2" height="1.6" fill="#000" />
<rect x="487.29999999999995" y="234.15" width="5.2" height="1.7" fill="#000" />
<rect x="489.04999999999995" y="232.6" width="1.7" height="4.8" fill="#000" />
<rect x="350.5" y="242.35" width="5.2" height="1.7" fill="#000" />
<rect x="352.25" y="240.79999999999998" width="1.7" height="4.8" fill="#000" />
<rect x="397.29999999999995" y="242.35" width="5.2" height="1.7" fill="#000" />
<rect x="399.04999999999995" y="240.79999999999998" width="1.7" height="4.8" fill="#000" />
<rect x="441.2" y="242.39999999999998" width="3.2" height="1.6" fill="#000" />
<rect x="488.0" y="242.39999999999998" width="3.2" height="1.6" fill="#000" />
<rect x="327.2" y="374.0" width="3.2" height="1.6" fill="#000" />
<rect x="351.79999999999995" y="373.95" width="5.2" height="1.7" fill="#000" />
<rect x="353.54999999999995" y="372.40000000000003" width="1.7" height="4.8" fill="#000" />
<rect x="376.4" y="374.0" width="3.2" height="1.6" fill="#000" />
<rect x="401.2" y="373.95" width="5.2" height="1.7" fill="#000" />
<rect x="402.95" y="372.40000000000003" width="1.7" height="4.8" fill="#000" />
<rect x="427.5" y="374.0" width="3.2" height="1.6" fill="#000" />
<rect x="452.5" y="373.95" width="5.2" height="1.7" fill="#000" />
<rect x="454.25" y="372.40000000000003" width="1.7" height="4.8" fill="#000" />
<rect x="478.59999999999997" y="374.0" width="3.2" height="1.6" fill="#000" />
<rect x="503.4" y="373.95" width="5.2" height="1.7" fill="#000" />
<rect x="505.15" y="372.40000000000003" width="1.7" height="4.8" fill="#000" />
</svg>
</body></html>
